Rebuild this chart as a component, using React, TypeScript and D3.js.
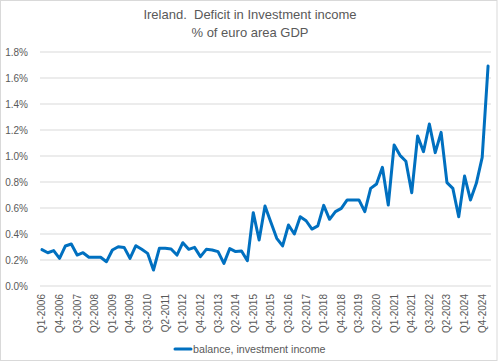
import React from "react";
import * as d3 from "d3";

const START_YEAR = 2006;
const N_POINTS = 77;
const categories: string[] = [];
for (let i = 0; i < N_POINTS; i++) {
  categories.push(`Q${(i % 4) + 1}-${START_YEAR + Math.floor(i / 4)}`);
}

const values: number[] = [
  0.28, 0.256, 0.272, 0.213, 0.308, 0.323, 0.238, 0.256, 0.221, 0.221,
  0.221, 0.187, 0.277, 0.302, 0.297, 0.213, 0.31, 0.282, 0.251, 0.123,
  0.29, 0.29, 0.285, 0.238, 0.333, 0.282, 0.297, 0.226, 0.282, 0.277,
  0.264, 0.174, 0.288, 0.265, 0.27, 0.195, 0.564, 0.354, 0.615, 0.49,
  0.367, 0.308, 0.469, 0.4, 0.533, 0.502, 0.438, 0.462, 0.62, 0.513,
  0.572, 0.597, 0.662, 0.662, 0.662, 0.572, 0.751, 0.785, 0.913, 0.623,
  1.085, 1.005, 0.96, 0.718, 1.154, 1.033, 1.246, 1.026, 1.182, 0.795,
  0.751, 0.533, 0.846, 0.662, 0.79, 0.99, 1.692,
];

const yTicks: number[] = [0, 0.2, 0.4, 0.6, 0.8, 1.0, 1.2, 1.4, 1.6, 1.8];
const titleLines: string[] = ["Ireland.  Deficit in Investment income", "% of euro area GDP"];
const seriesName = "balance, investment income";
const LABEL_EVERY = 3;

export default function App() {
  const W = 500;
  const H = 363;
  const plotLeft = 40;
  const plotRight = 491;
  const yScale = d3.scaleLinear().domain([0, 1.8]).range([286, 52]);
  const xBand = d3
    .scaleBand<number>()
    .domain(d3.range(N_POINTS))
    .range([39, 491])
    .padding(0);
  const xc = (i: number) => (xBand(i) as number) + xBand.bandwidth() / 2;
  const line = d3
    .line<number>()
    .x((_, i) => xc(i))
    .y((d) => yScale(d));
  const textColor = "#595959";
  const font = "'Liberation Sans', Arial, sans-serif";
  const blue = "#0070C0";

  return (
    <svg
      width={W}
      height={H}
      style={{ position: "absolute", left: 0, top: 0, background: "#fff" }}
      fontFamily={font}
    >
      <rect x={0.5} y={0.5} width={496.5} height={360} fill="#fff" stroke="#d9d9d9" />
      {titleLines.map((t, i) => (
        <text
          key={i}
          x={250}
          y={19.3 + i * 17.5}
          textAnchor="middle"
          fontSize={13}
          fill={textColor}
          style={{ whiteSpace: "pre" }}
        >
          {t}
        </text>
      ))}
      {yTicks.map((t) => (
        <g key={t}>
          <line
            x1={plotLeft}
            x2={plotRight}
            y1={yScale(t)}
            y2={yScale(t)}
            stroke="#d9d9d9"
            strokeWidth={1}
          />
          <text
            x={28}
            y={yScale(t)}
            dy="0.35em"
            textAnchor="end"
            fontSize={10}
            fill={textColor}
          >
            {d3.format(".1f")(t) + "%"}
          </text>
        </g>
      ))}
      {categories.map((c, i) =>
        i % LABEL_EVERY === 0 ? (
          <text
            key={c}
            transform={`translate(${xc(i)},294) rotate(-90)`}
            dy="0.35em"
            textAnchor="end"
            fontSize={10}
            fill={textColor}
          >
            {c}
          </text>
        ) : null
      )}
      <path
        d={line(values) || ""}
        fill="none"
        stroke={blue}
        strokeWidth={3}
        strokeLinejoin="round"
        strokeLinecap="round"
      />
      <line x1={175} x2={191} y1={349} y2={349} stroke={blue} strokeWidth={3} strokeLinecap="round" />
      <text x={193} y={349} dy="0.35em" fontSize={10.7} fill={textColor}>
        {seriesName}
      </text>
    </svg>
  );
}
